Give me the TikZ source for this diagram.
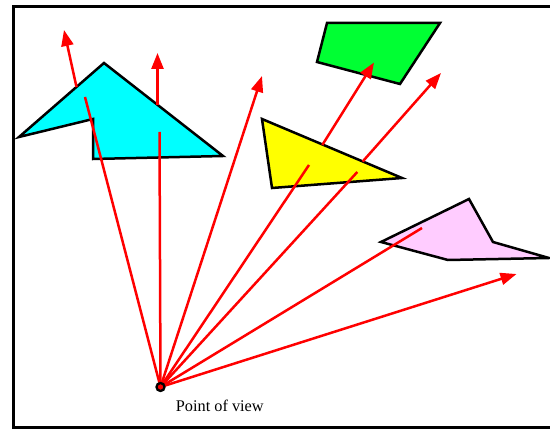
\documentclass[tikz,border=0pt]{standalone}
\usepackage{fontspec}
\setmainfont{Liberation Serif}
\usepackage{xcolor}
\definecolor{raycol}{HTML}{FF0000}
\definecolor{cyanface}{HTML}{00FFFF}
\definecolor{greenface}{HTML}{00FF33}
\definecolor{yellowface}{HTML}{FFFF00}
\definecolor{pinkface}{HTML}{FFCCFF}
\usetikzlibrary{arrows.meta}
\tikzset{
  frame/.style  ={draw=black, line width=3pt},
  face/.style   ={draw=black, line width=2.5pt, line join=miter},
  ray/.style    ={draw=raycol, line width=2.5pt},
  rayarr/.style ={ray, -{Triangle[length=16pt, width=12pt]}},
  pvdot/.style  ={circle, draw=black, fill=raycol, line width=2.3pt,
                  minimum size=8pt, inner sep=0pt},
  pvlabel/.style={font=\fontsize{16.3}{19}\selectfont, inner sep=0pt},
}

\begin{document}
\begin{tikzpicture}[x=1pt, y=-1pt]
  \useasboundingbox (0,0) rectangle (550,430);
  \draw[frame] (551,7) -| (13,428) -- (551,428);

  % surfaces
  \draw[face, fill=greenface]  (327,23) -- (440,23) -- (400,84) -- (317,62) -- cycle;
  \draw[face, fill=cyanface]   (104,63) -- (223,156) -- (93,159) -- (93,119) -- (19,137) -- cycle;
  \draw[face, fill=yellowface] (262,119) -- (402,178) -- (272,188) -- cycle;
  \draw[face, fill=pinkface]   (381,242) -- (469,199) -- (493,242) -- (549,258) -- (448,260) -- cycle;

  % point of view, hits and ray ends
  \coordinate (pv) at (160.5,387);
  \coordinate (h1) at (85,97);    \coordinate (e1) at (76.5,87);   \coordinate (t1) at (64,30);
  \coordinate (h2) at (159.5,132); \coordinate (e2) at (157.5,105); \coordinate (t2) at (157.5,53);
  \coordinate (t3) at (262,76);
  \coordinate (h4) at (309,165);  \coordinate (e4) at (322.3,145); \coordinate (t4) at (374,62.5);
  \coordinate (h5) at (357.3,172); \coordinate (e5) at (362.7,161.5); \coordinate (t5) at (441,73);
  \coordinate (h6) at (422,228);
  \coordinate (t7) at (516.5,274);

  % rays
  \draw[ray] (pv) -- (h1);
  \draw[rayarr] (e1) -- (t1);
  \draw[ray] (pv) -- (h2);
  \draw[rayarr] (e2) -- (t2);
  \draw[rayarr] (pv) -- (t3);
  \draw[ray] (pv) -- (h4);
  \draw[rayarr] (e4) -- (t4);
  \draw[ray] (pv) -- (h5);
  \draw[rayarr] (e5) -- (t5);
  \draw[ray] (pv) -- (h6);
  \draw[rayarr] (pv) -- (t7);

  \node[pvdot] (pvmark) at (pv) {};
  \node[pvlabel, anchor=base west] (pvtext) at (175.7,411.5) {Point of view};
\end{tikzpicture}
\end{document}
